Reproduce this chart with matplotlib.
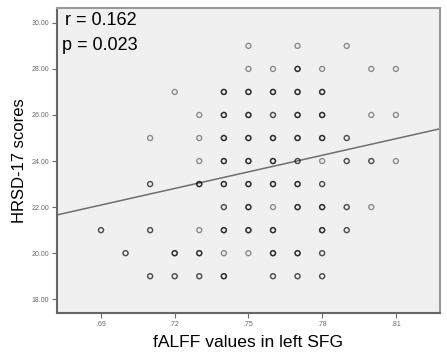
import numpy as np
import matplotlib
import matplotlib.pyplot as plt

matplotlib.use('Agg')

# fALFF column value, HRSD-17 score, number of overlapping cases at that spot
falff = [0.69,
         0.70,
         0.71, 0.71, 0.71, 0.71,
         0.72, 0.72, 0.72,
         0.73, 0.73, 0.73, 0.73, 0.73, 0.73, 0.73,
         0.74, 0.74, 0.74, 0.74, 0.74, 0.74, 0.74, 0.74, 0.74,
         0.75, 0.75, 0.75, 0.75, 0.75, 0.75, 0.75, 0.75, 0.75, 0.75,
         0.76, 0.76, 0.76, 0.76, 0.76, 0.76, 0.76, 0.76, 0.76, 0.76,
         0.77, 0.77, 0.77, 0.77, 0.77, 0.77, 0.77, 0.77, 0.77, 0.77,
         0.78, 0.78, 0.78, 0.78, 0.78, 0.78, 0.78, 0.78, 0.78, 0.78,
         0.79, 0.79, 0.79, 0.79, 0.79,
         0.80, 0.80, 0.80, 0.80,
         0.81, 0.81, 0.81]
hrsd = [21,
        20,
        25, 23, 21, 19,
        27, 20, 19,
        26, 25, 24, 23, 21, 20, 19,
        27, 26, 25, 24, 23, 22, 21, 20, 19,
        29, 28, 27, 26, 25, 24, 23, 22, 21, 20,
        28, 27, 26, 25, 24, 23, 22, 21, 20, 19,
        29, 28, 27, 26, 25, 24, 23, 22, 20, 19,
        28, 27, 26, 25, 24, 23, 22, 21, 20, 19,
        29, 25, 24, 22, 21,
        28, 26, 24, 22,
        28, 26, 24]
n_cases = [2,
           2,
           1, 2, 2, 2,
           1, 3, 2,
           1, 1, 1, 3, 1, 3, 2,
           3, 3, 3, 3, 3, 2, 3, 1, 3,
           1, 1, 3, 3, 3, 3, 3, 3, 3, 1,
           1, 3, 2, 3, 3, 3, 1, 3, 3, 2,
           1, 3, 3, 3, 3, 2, 3, 3, 3, 2,
           1, 3, 3, 3, 1, 2, 3, 3, 2, 2,
           1, 2, 2, 2, 2,
           1, 1, 2, 1,
           1, 1, 1]

# linear fit line as drawn (intercept at x=0, slope)
fit_intercept = 5.53
fit_slope = 24.0

x_ticks = [0.69, 0.72, 0.75, 0.78, 0.81]
x_labels = ['.69', '.72', '.75', '.78', '.81']
y_ticks = [18, 20, 22, 24, 26, 28, 30]

plt.rcParams['font.family'] = ['Liberation Sans', 'DejaVu Sans']

fig = plt.figure(figsize=(4.47, 3.59), dpi=100)
ax = fig.add_axes([0.1275, 0.128, 0.8565, 0.85])
ax.set_facecolor('#f0f0f0')

xs = np.repeat(falff, n_cases)
ys = np.repeat(hrsd, n_cases)
ax.scatter(xs, ys, s=13, facecolors='none', edgecolors='black',
           linewidths=1.0, alpha=0.42, zorder=3)

ax.axline((0, fit_intercept), slope=fit_slope, color='#6e6e6e', lw=1.1, zorder=2)

ax.set_xlim(0.6721, 0.8279)
ax.set_ylim(17.4, 30.65)
ax.set_xticks(x_ticks, x_labels)
ax.set_yticks(y_ticks, ['{:.2f}'.format(v) for v in y_ticks])
ax.tick_params(labelsize=5, colors='#6a6a6a', length=3.5, width=0.8, pad=2)

for side in ['left', 'bottom']:
    ax.spines[side].set_color('#666666')
    ax.spines[side].set_linewidth(1.5)
for side in ['top', 'right']:
    ax.spines[side].set_color('#999999')
    ax.spines[side].set_linewidth(1.5)

ax.set_xlabel('fALFF values in left SFG', fontsize=12.6, labelpad=5)
ax.set_ylabel('HRSD-17 scores', fontsize=12, labelpad=3)

ax.text(0.021, 0.985, 'r = 0.162', transform=ax.transAxes, fontsize=13,
        va='top', ha='left', color='black')
ax.text(0.013, 0.905, 'p = 0.023', transform=ax.transAxes, fontsize=13,
        va='top', ha='left', color='black')

plt.savefig('out.png', dpi=100)
plt.close()
